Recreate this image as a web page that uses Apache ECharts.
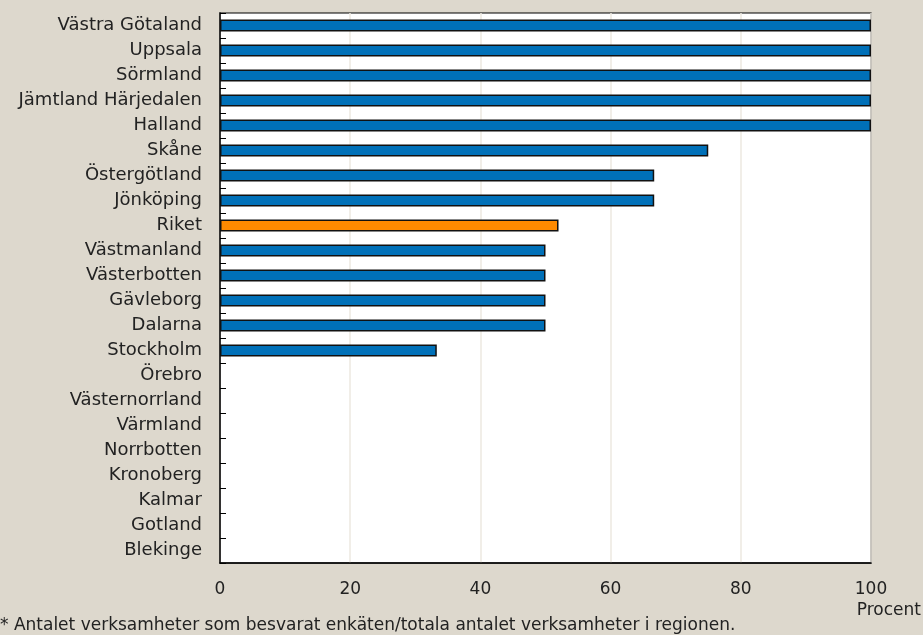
<!DOCTYPE html>
<html>
<head>
<meta charset="utf-8">
<script src="https://cdn.jsdelivr.net/npm/echarts@6/dist/echarts.min.js"></script>
<style>
  html, body { margin: 0; padding: 0; background: #DDD8CD; }
  #chart { width: 923px; height: 635px; }
</style>
</head>
<body>
<div id="chart"></div>
<script>
// Regions, top to bottom
const regions = [
  'Västra Götaland', 'Uppsala', 'Sörmland', 'Jämtland Härjedalen', 'Halland',
  'Skåne', 'Östergötland', 'Jönköping', 'Riket', 'Västmanland', 'Västerbotten',
  'Gävleborg', 'Dalarna', 'Stockholm', 'Örebro', 'Västernorrland', 'Värmland',
  'Norrbotten', 'Kronoberg', 'Kalmar', 'Gotland', 'Blekinge'
];
// Share of units that answered the survey, percent
const shares = [
  100, 100, 100, 100, 100,
  75, 66.7, 66.7, 52, 50, 50,
  50, 50, 33.3, 0, 0, 0,
  0, 0, 0, 0, 0
];
const xTicks = [0, 20, 40, 60, 80, 100];
const nationalLabel = 'Riket';

const font = '"DejaVu Sans", sans-serif';
const chart = echarts.init(document.getElementById('chart'));

chart.setOption({
  backgroundColor: '#DDD8CD',
  animation: false,
  grid: { left: 220, right: 52, top: 13, bottom: 72, show: true,
          backgroundColor: '#FFFFFF', borderColor: '#000000', borderWidth: 1.2 },
  xAxis: {
    type: 'value', min: xTicks[0], max: xTicks[xTicks.length - 1], interval: 20,
    axisLine: { show: true, lineStyle: { color: '#000', width: 1.5 } },
    axisTick: { show: false },
    axisLabel: { color: '#222', fontFamily: font, fontSize: 17, margin: 18 },
    splitLine: { show: true, lineStyle: { color: '#ECE8E1', width: 1.5 } }
  },
  yAxis: {
    type: 'category', data: regions, inverse: true,
    axisLine: { show: true, lineStyle: { color: '#000', width: 1.5 } },
    axisTick: { show: true, inside: true, length: 6, lineStyle: { color: '#000', width: 1 } },
    axisLabel: { color: '#222', fontFamily: font, fontSize: 18, margin: 18, padding: [3, 0, 0, 0] },
    splitLine: { show: false }
  },
  graphic: [
    { type: 'text', right: 2, top: 602,
      style: { text: 'Procent', fill: '#222', font: '17px ' + font } },
    { type: 'text', left: 0, top: 617,
      style: { text: '* Antalet verksamheter som besvarat enkäten/totala antalet verksamheter i regionen.',
               fill: '#222', font: '17px ' + font } }
  ],
  series: [{
    type: 'bar',
    barWidth: 12,
    data: shares.map((v, i) => ({
      value: v,
      itemStyle: {
        color: regions[i] === nationalLabel ? '#FF8A00' : '#0070B8',
        borderColor: '#111', borderWidth: v > 0 ? 1.5 : 0
      }
    }))
  }]
});
</script>
</body>
</html>
